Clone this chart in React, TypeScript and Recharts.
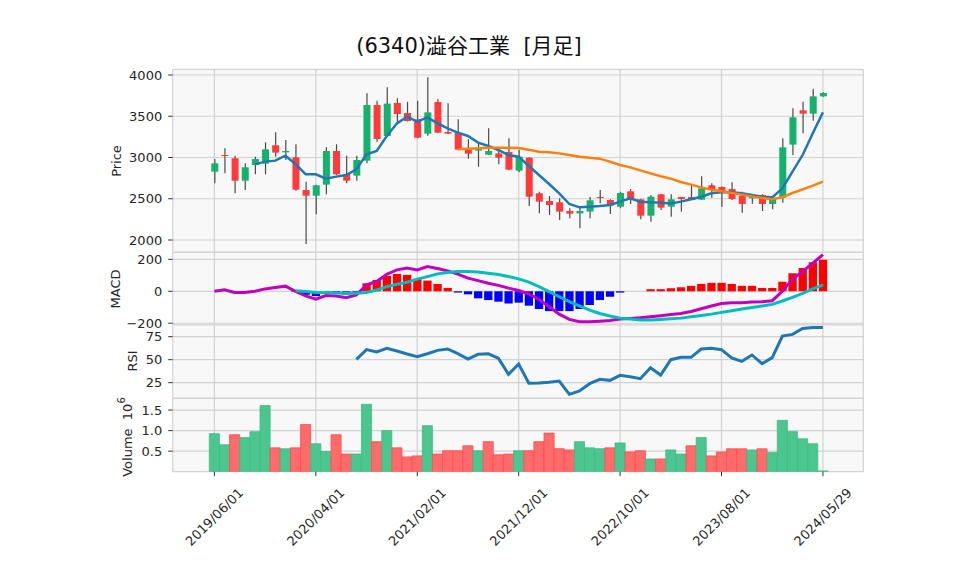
import React from 'react';
import { ComposedChart, Bar, Line, XAxis, YAxis, CartesianGrid, Cell } from 'recharts';

// ---------- data ----------
const tickIdx = [0, 10, 20, 30, 40, 50, 60];
const tickLabels = ['2019/06/01', '2020/04/01', '2021/02/01', '2021/12/01', '2022/10/01', '2023/08/01', '2024/05/29'];

const opens = [2828, 3030, 2990, 2719, 2909, 2925, 3148, 3063, 3002, 2606, 2537, 2671, 3079, 2800, 2780, 2962, 3636, 3261, 3661, 3539, 3463, 3289, 3673, 3309, 3297, 3095, 3083, 3034, 3050, 3067, 2840, 2998, 2566, 2473, 2457, 2352, 2323, 2344, 2521, 2485, 2404, 2590, 2493, 2295, 2554, 2404, 2521, 2521, 2489, 2663, 2643, 2618, 2537, 2505, 2546, 2436, 2513, 3156, 3572, 3531, 3741];
const highs = [2982, 3111, 3022, 2929, 3010, 3184, 3305, 3212, 3160, 2707, 2670, 3123, 3160, 3022, 3022, 3778, 3689, 3851, 3717, 3677, 3689, 3972, 3705, 3657, 3463, 3220, 3172, 3354, 3123, 3232, 3091, 3002, 2586, 2533, 2505, 2384, 2404, 2521, 2606, 2493, 2586, 2618, 2500, 2546, 2554, 2554, 2525, 2675, 2772, 2687, 2647, 2699, 2586, 2545, 2554, 2525, 3232, 3596, 3677, 3834, 3790];
const lows = [2687, 2808, 2566, 2606, 2796, 2796, 3010, 2970, 2598, 1952, 2311, 2554, 2788, 2687, 2719, 2929, 3192, 3253, 3414, 3435, 3232, 3265, 3293, 3281, 3091, 2986, 2889, 3034, 2917, 2844, 2820, 2412, 2323, 2303, 2243, 2263, 2142, 2263, 2444, 2315, 2384, 2436, 2251, 2222, 2364, 2283, 2344, 2485, 2485, 2513, 2404, 2485, 2331, 2440, 2352, 2372, 2453, 3030, 3293, 3446, 3737];
const closes = [2929, 3026, 2719, 2881, 2982, 3099, 3059, 3079, 2610, 2537, 2663, 3079, 2796, 2719, 2970, 3636, 3224, 3653, 3527, 3442, 3240, 3547, 3301, 3289, 3095, 3046, 3107, 3079, 2998, 2853, 3010, 2525, 2465, 2424, 2344, 2319, 2352, 2481, 2517, 2416, 2570, 2493, 2295, 2525, 2392, 2493, 2497, 2485, 2626, 2618, 2586, 2497, 2436, 2521, 2436, 2493, 3123, 3487, 3531, 3741, 3782];
// volume in millions
const volumes = [0.926, 0.656, 0.9, 0.83, 0.975, 1.61, 0.58, 0.557, 0.58, 1.15, 0.68, 0.49, 0.9, 0.43, 0.43, 1.64, 0.73, 1.0, 0.58, 0.36, 0.385, 1.12, 0.43, 0.51, 0.51, 0.63, 0.51, 0.73, 0.41, 0.43, 0.51, 0.51, 0.73, 0.94, 0.56, 0.53, 0.73, 0.58, 0.557, 0.58, 0.7, 0.48, 0.51, 0.31, 0.31, 0.53, 0.43, 0.63, 0.83, 0.385, 0.48, 0.557, 0.557, 0.53, 0.557, 0.47, 1.25, 0.975, 0.8, 0.68, 0.02];
const maShort = [null, null, null, null, 2917, 2950, 2962, 3022, 2921, 2796, 2796, 2744, 2768, 2788, 2857, 3038, 3079, 3261, 3414, 3495, 3434, 3487, 3414, 3354, 3301, 3261, 3180, 3140, 3091, 3030, 3010, 2897, 2788, 2679, 2566, 2436, 2396, 2404, 2412, 2424, 2465, 2505, 2465, 2457, 2453, 2444, 2465, 2493, 2525, 2566, 2578, 2578, 2566, 2546, 2525, 2517, 2626, 2828, 3030, 3293, 3547];
const maLong = [null, null, null, null, null, null, null, null, null, null, null, null, null, null, null, null, null, null, null, null, null, null, null, null, 3099, 3107, 3111, 3119, 3119, 3119, 3115, 3095, 3071, 3063, 3050, 3030, 3010, 2998, 2986, 2950, 2909, 2880, 2844, 2808, 2772, 2744, 2703, 2671, 2638, 2610, 2590, 2570, 2550, 2529, 2509, 2493, 2517, 2570, 2614, 2659, 2707];
const macdLine = [0, 10, -8, -8, 0, 15, 23, 32, 0, -29, -50, -27, -29, -40, -23, 40, 61, 107, 134, 145, 134, 155, 143, 128, 107, 82, 67, 50, 37, 20, 5, -17, -50, -97, -143, -176, -191, -191, -187, -183, -174, -170, -166, -160, -153, -145, -139, -126, -109, -92, -76, -71, -71, -67, -65, -59, 0, 76, 124, 176, 229];
const signalLine = [null, null, null, null, null, null, null, null, 4, -2, -8, -8, -10, -13, -13, -8, 8, 29, 44, 57, 76, 92, 109, 118, 124, 124, 120, 113, 105, 92, 78, 57, 29, -2, -34, -65, -92, -118, -139, -155, -168, -174, -179, -179, -176, -172, -168, -160, -151, -143, -132, -122, -111, -101, -92, -82, -61, -38, -13, 15, 40];
const macdHist = [null, null, null, null, null, null, null, null, -4, -22, -30, -15, -14, -20, -8, 50, 71, 97, 109, 103, 78, 67, 46, 21, -8, -19, -44, -55, -65, -76, -71, -90, -111, -124, -124, -124, -111, -86, -55, -34, -8, 0, 0, 13, 13, 19, 25, 34, 46, 53, 53, 46, 34, 34, 21, 21, 59, 113, 145, 181, 197];
const rsi = [null, null, null, null, null, null, null, null, null, null, null, null, null, null, 50.4, 60.9, 58.4, 62.3, 59.4, 56.2, 53.3, 56.5, 60.1, 61.6, 56.5, 50.7, 55.8, 56.5, 51.5, 34.1, 45.3, 24.3, 24.6, 25.4, 26.8, 12.3, 16, 23.9, 28.6, 27.5, 33, 31.5, 29.3, 41.3, 33.3, 50, 52.5, 52.5, 61.6, 62.3, 60.9, 51.8, 48.2, 55.1, 45.7, 52.2, 75.7, 77.5, 84, 85.1, 85.1];

const priceTicks = [2000, 2500, 3000, 3500, 4000];
const macdTicks = [-200, 0, 200];
const rsiTicks = [25, 50, 75];
const volTicks = [0.5, 1.0, 1.5];

// ---------- style / layout ----------
const W = 958;
const H = 575;
const PL = 172.7;
const PR = 863.3;
const YW = 60;
const X_DOMAIN: [number, number] = [-4.11, 63.98];
const FONT = '"DejaVu Sans", "Noto Sans CJK JP", sans-serif';
const BG = '#f8f8f8';
const GRID = '#d2d2d2';
const UP = '#14b26c';
const DOWN = '#ff3a3a';
const VUP = '#4cc68f';
const VDOWN = '#ff6a6a';

const rows = opens.map((o, i) => ({
  i,
  open: o,
  high: highs[i],
  low: lows[i],
  close: closes[i],
  vol: volumes[i],
  volUp: i === 0 ? true : closes[i] >= closes[i - 1],
  maS: maShort[i],
  maL: maLong[i],
  macd: macdLine[i],
  signal: signalLine[i],
  hist: macdHist[i],
  rsi: rsi[i],
}));

const Candle = (props: any) => {
  const { x, y, width, height, payload } = props;
  if (x == null || y == null) return null;
  const { open, close, high, low } = payload;
  const top = Math.min(y, y + height);
  const h = Math.abs(height);
  const ppu = high - low > 0 ? h / (high - low) : 0;
  const yOf = (v: number) => top + (high - v) * ppu;
  const up = close > open;
  const color = up ? UP : DOWN;
  const cx = x + width / 2;
  const bTop = yOf(Math.max(open, close));
  const bBot = yOf(Math.min(open, close));
  return (
    <g>
      <line x1={cx} x2={cx} y1={top} y2={top + h} stroke="#4a4a4a" strokeWidth={1.2} />
      <rect x={x} y={bTop} width={width} height={Math.max(bBot - bTop, 1)} fill={color} />
    </g>
  );
};

const tickStyle = { fontSize: 13, fill: '#262626', fontFamily: FONT };

const XTick = (props: any) => {
  const { x, payload } = props;
  const k = tickIdx.indexOf(payload.value);
  const label = k >= 0 ? tickLabels[k] : '';
  const cy = 517;
  return (
    <text
      x={x}
      y={cy}
      textAnchor="middle"
      dominantBaseline="central"
      transform={`rotate(-45, ${x}, ${cy})`}
      style={tickStyle}
    >
      {label}
    </text>
  );
};

const fmtMinus = (v: number) => (v < 0 ? '\u2212' + Math.abs(v) : String(v));

const abs: React.CSSProperties = { position: 'absolute', left: 0, top: 0 };

function margin(top: number, bottom: number, xh = 0) {
  return { top, bottom: H - bottom - xh, left: PL - YW, right: W - PR };
}

export default function App() {
  return (
    <div style={{ position: 'absolute', left: 0, top: 0, width: W, height: H, background: '#fff', fontFamily: FONT }}>
      {/* Price panel */}
      <div style={abs}>
        <ComposedChart width={W} height={H} data={rows} margin={margin(69.3, 252.3)}>
          <CartesianGrid fill={BG} stroke={GRID} strokeWidth={1.2} />
          <XAxis type="number" dataKey="i" domain={X_DOMAIN} ticks={tickIdx} hide allowDataOverflow />
          <YAxis
            type="number"
            domain={[1851, 4069]}
            ticks={priceTicks}
            interval={0}
            allowDataOverflow
            width={YW}
            axisLine={false}
            tickLine={{ stroke: '#333' }}
            tickSize={4.5}
            tickMargin={6}
            tick={tickStyle}
          />
          <Bar dataKey={(d: any) => [d.low, d.high]} barSize={7} shape={<Candle />} isAnimationActive={false} />
          <Line dataKey="maS" stroke="#1f77b4" strokeWidth={2.5} dot={false} isAnimationActive={false} />
          <Line dataKey="maL" stroke="#ff7f0e" strokeWidth={2.5} dot={false} isAnimationActive={false} />
        </ComposedChart>
      </div>

      {/* MACD panel */}
      <div style={abs}>
        <ComposedChart width={W} height={H} data={rows} margin={margin(252.3, 325)}>
          <CartesianGrid fill={BG} stroke={GRID} strokeWidth={1.2} />
          <XAxis type="number" dataKey="i" domain={X_DOMAIN} ticks={tickIdx} hide allowDataOverflow />
          <YAxis
            type="number"
            domain={[-211, 244]}
            ticks={macdTicks}
            interval={0}
            allowDataOverflow
            width={YW}
            axisLine={false}
            tickLine={{ stroke: '#333' }}
            tickSize={4.5}
            tickMargin={6}
            tick={tickStyle}
            tickFormatter={fmtMinus}
          />
          <Bar dataKey="hist" barSize={8.3} isAnimationActive={false}>
            {rows.map((r, k) => (
              <Cell key={k} fill={(r.hist ?? 0) >= 0 ? '#ff0000' : '#0000ff'} />
            ))}
          </Bar>
          <Line dataKey="macd" stroke="#bf00bf" strokeWidth={3} dot={false} isAnimationActive={false} />
          <Line dataKey="signal" stroke="#00bdbd" strokeWidth={3} dot={false} isAnimationActive={false} />
        </ComposedChart>
      </div>

      {/* RSI panel */}
      <div style={abs}>
        <ComposedChart width={W} height={H} data={rows} margin={margin(325, 398.3)}>
          <CartesianGrid fill={BG} stroke={GRID} strokeWidth={1.2} />
          <XAxis type="number" dataKey="i" domain={X_DOMAIN} ticks={tickIdx} hide allowDataOverflow />
          <YAxis
            type="number"
            domain={[8, 87.7]}
            ticks={rsiTicks}
            interval={0}
            allowDataOverflow
            width={YW}
            axisLine={false}
            tickLine={{ stroke: '#333' }}
            tickSize={4.5}
            tickMargin={6}
            tick={tickStyle}
          />
          <Line dataKey="rsi" stroke="#1f77b4" strokeWidth={3} dot={false} isAnimationActive={false} />
        </ComposedChart>
      </div>

      {/* Volume panel */}
      <div style={abs}>
        <ComposedChart width={W} height={H} data={rows} margin={margin(398.3, 471.7, 60)}>
          <CartesianGrid fill={BG} stroke={GRID} strokeWidth={1.2} />
          <XAxis
            type="number"
            dataKey="i"
            domain={X_DOMAIN}
            ticks={tickIdx}
            allowDataOverflow
            height={60}
            axisLine={false}
            tickLine={{ stroke: '#333' }}
            tickSize={4.5}
            tick={<XTick />}
            interval={0}
          />
          <YAxis
            type="number"
            domain={[0, 1.786]}
            ticks={volTicks}
            interval={0}
            allowDataOverflow
            width={YW}
            axisLine={false}
            tickLine={{ stroke: '#333' }}
            tickSize={4.5}
            tickMargin={6}
            tick={tickStyle}
            tickFormatter={(v: number) => v.toFixed(1)}
          />
          <Bar dataKey="vol" barSize={10.1} isAnimationActive={false}>
            {rows.map((r, k) => (
              <Cell key={k} fill={r.volUp ? VUP : VDOWN} stroke={r.volUp ? '#3dbb82' : '#ff4d4d'} strokeWidth={0.8} />
            ))}
          </Bar>
        </ComposedChart>
      </div>

      {/* Titles and axis labels */}
      <svg width={W} height={H} style={{ ...abs, pointerEvents: 'none' }}>
        <text x={469} y={46} textAnchor="middle" dominantBaseline="central" style={{ fontSize: 21, fill: '#111', fontFamily: FONT, whiteSpace: 'pre' }}>
          {'(6340)澁谷工業  [月足]'}
        </text>
        <text x={116} y={161} textAnchor="middle" dominantBaseline="central" transform="rotate(-90, 116, 161)" style={tickStyle}>
          Price
        </text>
        <text x={115} y={289} textAnchor="middle" dominantBaseline="central" transform="rotate(-90, 115, 289)" style={tickStyle}>
          MACD
        </text>
        <text x={132} y={361} textAnchor="middle" dominantBaseline="central" transform="rotate(-90, 132, 361)" style={tickStyle}>
          RSI
        </text>
        <text x={127} y={437} textAnchor="middle" dominantBaseline="central" transform="rotate(-90, 127, 437)" style={{ ...tickStyle, whiteSpace: 'pre' }}>
          {'Volume  10'}
          <tspan dy={-6} style={{ fontSize: 10 }}>6</tspan>
        </text>
      </svg>
    </div>
  );
}
